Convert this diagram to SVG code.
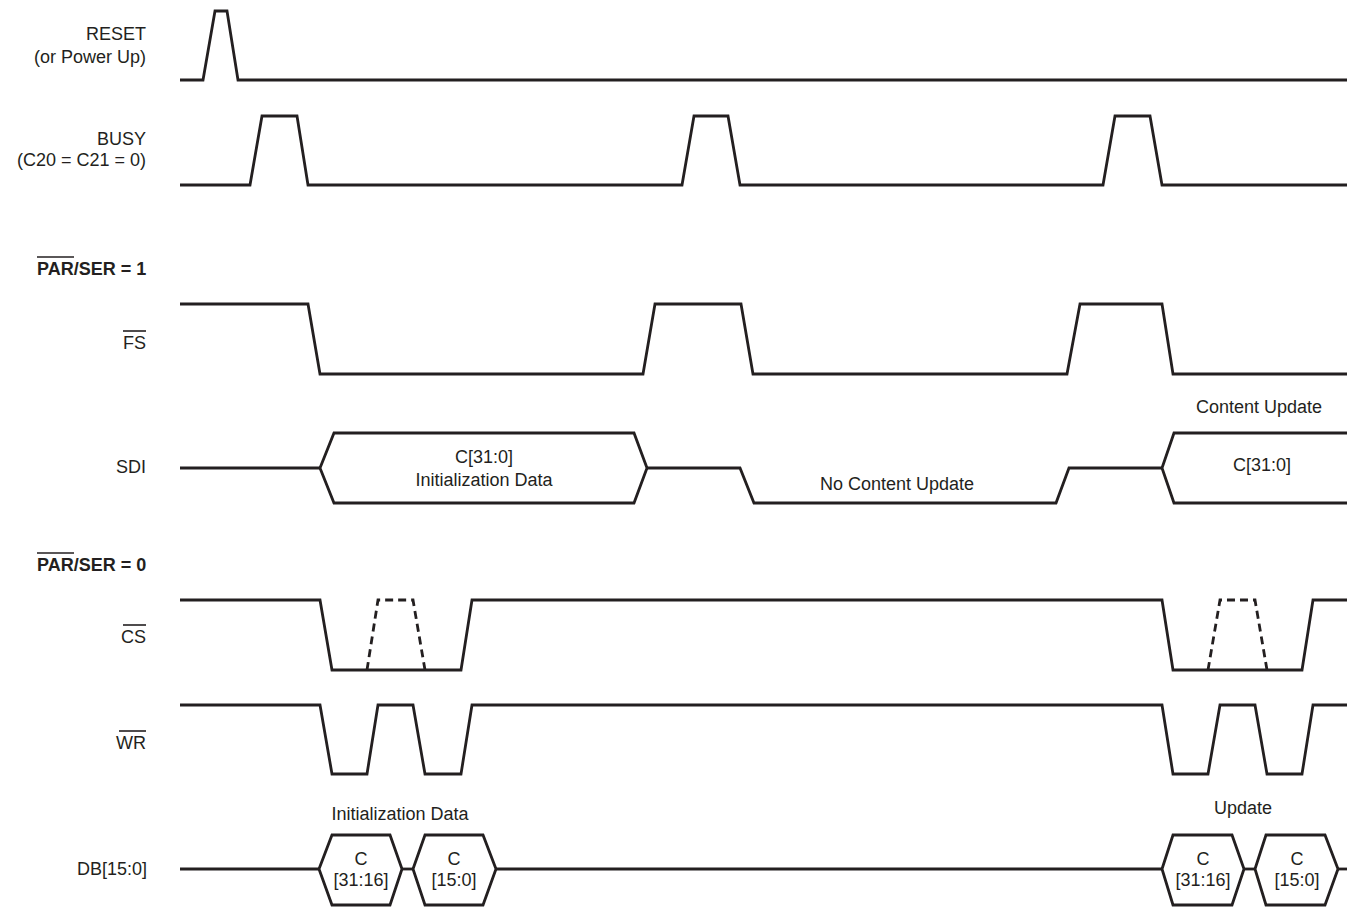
<svg xmlns="http://www.w3.org/2000/svg" width="1353" height="907" viewBox="0 0 1353 907">
<style>
.sig{fill:none;stroke:#231f20;stroke-width:2.8;stroke-linejoin:miter;stroke-linecap:butt}
.dash{fill:none;stroke:#231f20;stroke-width:2.8;stroke-dasharray:8,5}
.ol{stroke:#231f20;stroke-width:1.6}
text{font-family:"Liberation Sans",Arial,Helvetica,sans-serif;font-size:18px;fill:#231f20}
.lbl{text-anchor:end}
.c{text-anchor:middle}
.b{font-weight:bold}
</style>
<rect width="1353" height="907" fill="#fff"/>
<g id="labels">
<text class="lbl" x="146" y="40">RESET</text>
<text class="lbl" x="146" y="63">(or Power Up)</text>
<text class="lbl" x="146" y="145">BUSY</text>
<text class="lbl" x="146" y="166">(C20 = C21 = 0)</text>
<text class="b" x="37" y="275">PAR/SER = 1</text>
<line class="ol" x1="37" y1="257" x2="74" y2="257"/>
<text class="lbl" x="146" y="349">FS</text>
<line class="ol" x1="123" y1="331" x2="146" y2="331"/>
<text class="lbl" x="146" y="473">SDI</text>
<text class="b" x="37" y="571">PAR/SER = 0</text>
<line class="ol" x1="37" y1="553" x2="74" y2="553"/>
<text class="lbl" x="146" y="643">CS</text>
<line class="ol" x1="123" y1="625" x2="146" y2="625"/>
<text class="lbl" x="146" y="749">WR</text>
<line class="ol" x1="119" y1="731" x2="146" y2="731"/>
<text class="lbl" x="147" y="875">DB[15:0]</text>
</g>
<g id="reset">
<polyline class="sig" points="180,80 203,80 215,11 227,11 238,80 1347,80"/>
</g>
<g id="busy">
<polyline class="sig" points="180,185 250,185 262,116 297,116 308,185 682,185 694,116 728,116 740,185 1103,185 1115,116 1150,116 1162,185 1347,185"/>
</g>
<g id="fs">
<polyline class="sig" points="180,304 308,304 320,374 643,374 655,304 741,304 753,374 1067,374 1080,304 1162,304 1173,374 1347,374"/>
</g>
<g id="sdi">
<polyline class="sig" points="180,468 320,468"/>
<polygon class="sig" points="320,468 334,433 634,433 647,468 634,503 334,503"/>
<polyline class="sig" points="647,468 740,468 754,503 1056,503 1069,468 1162,468"/>
<polyline class="sig" points="1347,433 1174,433 1162,468 1174,503 1347,503"/>
<text class="c" x="484" y="463">C[31:0]</text>
<text class="c" x="484" y="486">Initialization Data</text>
<text class="c" x="897" y="490">No Content Update</text>
<text class="c" x="1259" y="413">Content Update</text>
<text class="c" x="1262" y="471">C[31:0]</text>
</g>
<g id="cs">
<polyline class="sig" points="180,600 320,600 332,670 461,670 472,600 1162,600 1173,670 1302,670 1313,600 1347,600"/>
<polyline class="dash" points="367,670 378,600 413,600 425,670"/>
<polyline class="dash" points="1208,670 1220,600 1255,600 1267,670"/>
</g>
<g id="wr">
<polyline class="sig" points="180,705 320,705 332,774 367,774 378,705 413,705 425,774 461,774 472,705 1162,705 1173,774 1208,774 1220,705 1255,705 1267,774 1302,774 1313,705 1347,705"/>
</g>
<g id="db">
<polyline class="sig" points="180,869 319,869"/>
<polygon class="sig" points="319,869 332,835 390,835 402,869 390,905 332,905"/>
<polyline class="sig" points="402,869 413,869"/>
<polygon class="sig" points="413,869 425,835 483,835 496,869 483,905 425,905"/>
<polyline class="sig" points="496,869 1162,869"/>
<polygon class="sig" points="1162,869 1173,835 1232,835 1244,869 1232,905 1173,905"/>
<polyline class="sig" points="1244,869 1255,869"/>
<polygon class="sig" points="1255,869 1266,835 1325,835 1338,869 1325,905 1266,905"/>
<polyline class="sig" points="1338,869 1347,869"/>
<text class="c" x="400" y="820">Initialization Data</text>
<text class="c" x="361" y="865">C</text>
<text class="c" x="361" y="886">[31:16]</text>
<text class="c" x="454" y="865">C</text>
<text class="c" x="454" y="886">[15:0]</text>
<text class="c" x="1243" y="814">Update</text>
<text class="c" x="1203" y="865">C</text>
<text class="c" x="1203" y="886">[31:16]</text>
<text class="c" x="1297" y="865">C</text>
<text class="c" x="1297" y="886">[15:0]</text>
</g>
</svg>
